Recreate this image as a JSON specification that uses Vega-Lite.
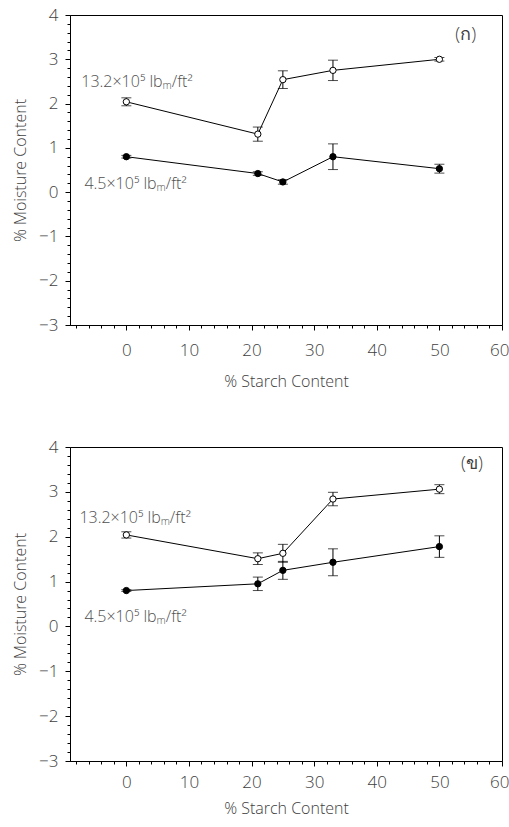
{
  "$schema": "https://vega.github.io/schema/vega-lite/v6.json",
  "background": "white",
  "padding": {"left": 12, "top": 5, "right": 10, "bottom": 5},
  "spacing": 47,
  "datasets": {
    "pa": [
      {"series": "13.2", "starch": 0, "moisture": 2.04, "err": 0.09},
      {"series": "13.2", "starch": 21, "moisture": 1.31, "err": 0.16},
      {"series": "13.2", "starch": 25, "moisture": 2.54, "err": 0.2},
      {"series": "13.2", "starch": 33, "moisture": 2.75, "err": 0.23},
      {"series": "13.2", "starch": 50, "moisture": 3.0, "err": 0.04},
      {"series": "4.5", "starch": 0, "moisture": 0.8, "err": 0.03},
      {"series": "4.5", "starch": 21, "moisture": 0.42, "err": 0.04},
      {"series": "4.5", "starch": 25, "moisture": 0.23, "err": 0.05},
      {"series": "4.5", "starch": 33, "moisture": 0.8, "err": 0.29},
      {"series": "4.5", "starch": 50, "moisture": 0.53, "err": 0.1}
    ],
    "pb": [
      {"series": "13.2", "starch": 0, "moisture": 2.04, "err": 0.07},
      {"series": "13.2", "starch": 21, "moisture": 1.51, "err": 0.13},
      {"series": "13.2", "starch": 25, "moisture": 1.63, "err": 0.2},
      {"series": "13.2", "starch": 33, "moisture": 2.84, "err": 0.15},
      {"series": "13.2", "starch": 50, "moisture": 3.06, "err": 0.1},
      {"series": "4.5", "starch": 0, "moisture": 0.8, "err": 0.02},
      {"series": "4.5", "starch": 21, "moisture": 0.95, "err": 0.15},
      {"series": "4.5", "starch": 25, "moisture": 1.25, "err": 0.2},
      {"series": "4.5", "starch": 33, "moisture": 1.43, "err": 0.3},
      {"series": "4.5", "starch": 50, "moisture": 1.78, "err": 0.24}
    ]
  },
  "config": {
    "view": {"stroke": "black", "strokeWidth": 1},
    "font": "Open Sans",
    "axis": {
      "grid": false,
      "domainColor": "black",
      "tickColor": "black",
      "labelColor": "#404040",
      "titleColor": "#404040",
      "labelFont": "Open Sans",
      "titleFont": "Open Sans",
      "labelFontSize": 17,
      "labelFontWeight": 300,
      "titleFontSize": 16,
      "titleFontWeight": 300,
      "labelOverlap": false,
      "tickCount": 200
    }
  },
  "vconcat": [
    {
      "width": 432,
      "height": 310,
      "layer": [
        {
          "data": {"name": "pa"},
          "mark": {"type": "errorbar", "color": "black", "thickness": 1, "ticks": {"size": 10, "thickness": 1, "color": "black"}},
          "encoding": {
            "x": {"field": "starch", "type": "quantitative", "scale": {"domain": [-9, 60], "nice": false, "zero": false},
              "axis": {"title": "% Starch Content", "values": [-8,-6,-4,-2,0,2,4,6,8,10,12,14,16,18,20,22,24,26,28,30,32,34,36,38,40,42,44,46,48,50,52,54,56,58,60],
                "labelExpr": "datum.value % 10 === 0 ? datum.label : ''", "format": "d", "tickCount": 200,
                "tickSize": {"condition": {"test": "datum.value % 10 === 0", "value": 5}, "value": 3},
                "labelPadding": 12, "titlePadding": 15, "labelFlush": 1, "labelFlushOffset": 7, "labelOverlap": false}},
            "y": {"field": "moisture", "type": "quantitative", "scale": {"domain": [-3, 4], "nice": false, "zero": false},
              "axis": {"title": "% Moisture Content", "values": [-3,-2.8,-2.6,-2.4,-2.2,-2,-1.8,-1.6,-1.4,-1.2,-1,-0.8,-0.6,-0.4,-0.2,0,0.2,0.4,0.6,0.8,1,1.2,1.4,1.6,1.8,2,2.2,2.4,2.6,2.8,3,3.2,3.4,3.6,3.8,4],
                "labelExpr": "datum.value % 1 === 0 ? datum.label : ''", "format": ".0f", "tickCount": 200,
                "tickSize": {"condition": {"test": "datum.value % 1 === 0", "value": 5}, "value": 3},
                "labelPadding": 7, "titlePadding": 10, "labelOverlap": false}},
            "yError": {"field": "err"}
          }
        },
        {
          "data": {"name": "pa"},
          "mark": {"type": "line", "color": "black", "strokeWidth": 1},
          "encoding": {
            "x": {"field": "starch", "type": "quantitative"},
            "y": {"field": "moisture", "type": "quantitative"},
            "detail": {"field": "series"}
          }
        },
        {
          "data": {"name": "pa"},
          "mark": {"type": "point", "stroke": "black", "strokeWidth": 1, "size": 40, "opacity": 1},
          "encoding": {
            "x": {"field": "starch", "type": "quantitative"},
            "y": {"field": "moisture", "type": "quantitative"},
            "fill": {"field": "series", "type": "nominal", "scale": {"domain": ["13.2", "4.5"], "range": ["white", "black"]}, "legend": null}
          }
        },
        {
          "data": {"values": [{}]},
          "mark": {"type": "text", "text": "13.2×10⁵ lbₘ/ft²", "align": "left", "baseline": "middle", "fontSize": 16, "fontWeight": 300, "color": "#505050"},
          "encoding": {"x": {"datum": -7.2}, "y": {"datum": 2.49}}
        },
        {
          "data": {"values": [{}]},
          "mark": {"type": "text", "text": "4.5×10⁵ lbₘ/ft²", "align": "left", "baseline": "middle", "fontSize": 16, "fontWeight": 300, "color": "#505050"},
          "encoding": {"x": {"datum": -6.7}, "y": {"datum": 0.19}}
        },
        {
          "data": {"values": [{}]},
          "mark": {"type": "text", "text": "(ก)", "align": "center", "baseline": "middle", "fontSize": 18, "fontWeight": 300, "color": "#404040"},
          "encoding": {"x": {"datum": 54.2}, "y": {"datum": 3.55}}
        }
      ]
    },
    {
      "width": 432,
      "height": 314,
      "layer": [
        {
          "data": {"name": "pb"},
          "mark": {"type": "errorbar", "color": "black", "thickness": 1, "ticks": {"size": 10, "thickness": 1, "color": "black"}},
          "encoding": {
            "x": {"field": "starch", "type": "quantitative", "scale": {"domain": [-9, 60], "nice": false, "zero": false},
              "axis": {"title": "% Starch Content", "values": [-8,-6,-4,-2,0,2,4,6,8,10,12,14,16,18,20,22,24,26,28,30,32,34,36,38,40,42,44,46,48,50,52,54,56,58,60],
                "labelExpr": "datum.value % 10 === 0 ? datum.label : ''", "format": "d", "tickCount": 200,
                "tickSize": {"condition": {"test": "datum.value % 10 === 0", "value": 5}, "value": 3},
                "labelPadding": 8, "titlePadding": 10, "labelFlush": 1, "labelFlushOffset": 7, "labelOverlap": false}},
            "y": {"field": "moisture", "type": "quantitative", "scale": {"domain": [-3, 4], "nice": false, "zero": false},
              "axis": {"title": "% Moisture Content", "values": [-3,-2.8,-2.6,-2.4,-2.2,-2,-1.8,-1.6,-1.4,-1.2,-1,-0.8,-0.6,-0.4,-0.2,0,0.2,0.4,0.6,0.8,1,1.2,1.4,1.6,1.8,2,2.2,2.4,2.6,2.8,3,3.2,3.4,3.6,3.8,4],
                "labelExpr": "datum.value % 1 === 0 ? datum.label : ''", "format": ".0f", "tickCount": 200,
                "tickSize": {"condition": {"test": "datum.value % 1 === 0", "value": 5}, "value": 3},
                "labelPadding": 7, "titlePadding": 10, "labelOverlap": false}},
            "yError": {"field": "err"}
          }
        },
        {
          "data": {"name": "pb"},
          "mark": {"type": "line", "color": "black", "strokeWidth": 1},
          "encoding": {
            "x": {"field": "starch", "type": "quantitative"},
            "y": {"field": "moisture", "type": "quantitative"},
            "detail": {"field": "series"}
          }
        },
        {
          "data": {"name": "pb"},
          "mark": {"type": "point", "stroke": "black", "strokeWidth": 1, "size": 40, "opacity": 1},
          "encoding": {
            "x": {"field": "starch", "type": "quantitative"},
            "y": {"field": "moisture", "type": "quantitative"},
            "fill": {"field": "series", "type": "nominal", "scale": {"domain": ["13.2", "4.5"], "range": ["white", "black"]}, "legend": null}
          }
        },
        {
          "data": {"values": [{}]},
          "mark": {"type": "text", "text": "13.2×10⁵ lbₘ/ft²", "align": "left", "baseline": "middle", "fontSize": 16, "fontWeight": 300, "color": "#505050"},
          "encoding": {"x": {"datum": -7.5}, "y": {"datum": 2.42}}
        },
        {
          "data": {"values": [{}]},
          "mark": {"type": "text", "text": "4.5×10⁵ lbₘ/ft²", "align": "left", "baseline": "middle", "fontSize": 16, "fontWeight": 300, "color": "#505050"},
          "encoding": {"x": {"datum": -6.7}, "y": {"datum": 0.2}}
        },
        {
          "data": {"values": [{}]},
          "mark": {"type": "text", "text": "(ข)", "align": "center", "baseline": "middle", "fontSize": 18, "fontWeight": 300, "color": "#404040"},
          "encoding": {"x": {"datum": 55.2}, "y": {"datum": 3.63}}
        }
      ]
    }
  ]
}
